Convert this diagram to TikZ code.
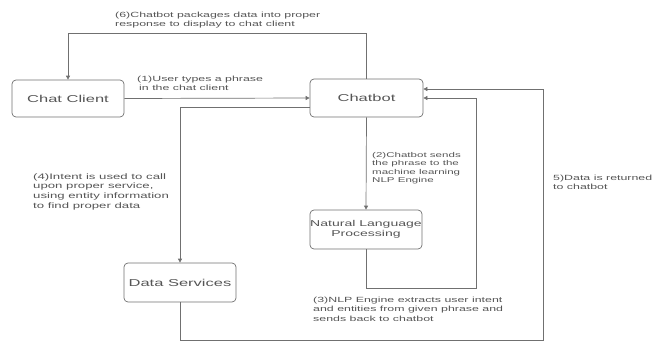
\documentclass[tikz,border=0pt]{standalone}
\usepackage{fontspec}
\setmainfont{Liberation Sans}[FakeStretch=1.65]
\usetikzlibrary{arrows.meta}
\definecolor{ln}{HTML}{707070}
\definecolor{tx}{HTML}{555555}
\tikzset{
  box/.style={draw=ln, line width=0.7pt, rounded corners=4pt, fill=white, text=tx,
    font=\fontsize{10}{12}\selectfont, align=center, inner sep=0pt},
  lbl/.style={anchor=north west, inner sep=0pt, text=tx, align=left,
    font=\fontsize{7.5}{9.3}\selectfont},
  arr/.style={draw=ln, line width=0.7pt, -{Triangle[length=4pt,width=4pt]}},
  ln/.style={draw=ln, line width=0.7pt}
}
\begin{document}
\begin{tikzpicture}[x=1pt,y=-1pt]
\useasboundingbox (0,0) rectangle (659,343);
\node[box, minimum width=112pt, minimum height=37pt] (cc) at (68,98.5) {Chat Client};
\node[box, minimum width=113pt, minimum height=38pt] (cb) at (366.5,98) {Chatbot};
\node[box, minimum width=112pt, minimum height=39pt] (ds) at (180,282.5) {Data Services};
\node[box, minimum width=112pt, minimum height=39pt, font=\fontsize{8.5}{10}\selectfont] (nlp) at (366,229.5) {Natural Language\\Processing};
\coordinate (t6) at (68,33);
\coordinate (n3) at (476,288);
\coordinate (d5) at (543,340);
\draw[arr] (cb.north) |- (t6) -- (cc.north);
\draw[arr] (cc.east) -- (cb.west);
\draw[arr] ([yshift=-9pt]cb.west) -| (ds.north);
\draw[arr] (cb.south) -- (nlp.north);
\draw[arr] (nlp.south) |- (n3) |- (cb.east);
\draw[arr] (ds.south) |- (d5) |- ([yshift=9pt]cb.east);
\node[lbl] (l6) at (115,12) {(6)Chatbot packages data into proper\\response to display to chat client};
\node[lbl] (l1) at (137,76) {(1)User types a phrase\\\hspace{2pt}in the chat client};
\node[lbl, font=\fontsize{8}{9.8}\selectfont] (l4) at (33,173) {(4)Intent is used to call\\upon proper service,\\using entity information\\to find proper data};
\node[lbl, font=\fontsize{7}{8.4}\selectfont] (l2) at (372,152) {(2)Chatbot sends\\the phrase to the\\machine learning\\NLP Engine};
\node[lbl] (l3) at (313,297) {(3)NLP Engine extracts user intent\\and entities from given phrase and\\sends back to chatbot};
\node[lbl] (l5) at (553,175) {5)Data is returned\\to chatbot};
\end{tikzpicture}
\end{document}
